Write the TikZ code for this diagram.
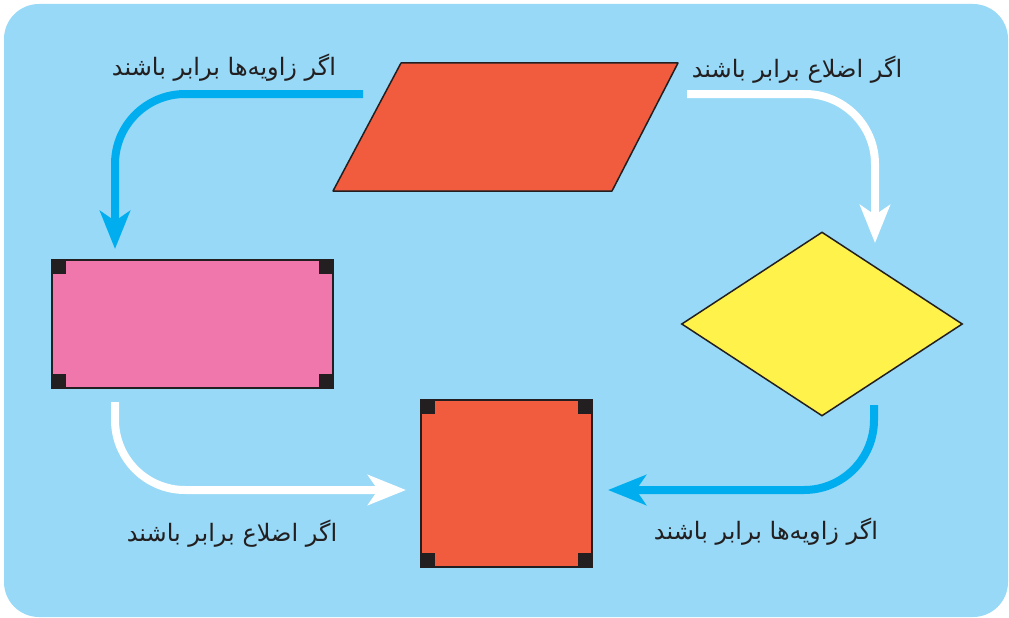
\documentclass[tikz,border=0pt]{standalone}
\usepackage{fontspec}
\newfontfamily\farsifont[Script=Arabic]{DejaVu Sans}
\TeXXeTstate=1
\usetikzlibrary{arrows.meta,shapes.geometric}

\definecolor{bgblue}{HTML}{97D9F6}
\definecolor{arrowblue}{HTML}{00AEEF}
\definecolor{shapered}{HTML}{F15C3E}
\definecolor{shapepink}{HTML}{F077AC}
\definecolor{shapeyellow}{HTML}{FFF24A}
\definecolor{inkdark}{HTML}{231F20}

\tikzset{
  flowarrow/.style={line width=8pt, rounded corners=70pt,
    -{Stealth[length=38pt,width=30pt,inset=10pt]}},
  shapebox/.style={draw=inkdark, line width=1.5pt, inner sep=0pt},
  cond/.style={font=\farsifont\fontsize{24}{28}\selectfont, text=inkdark},
}

\begin{document}
\begin{tikzpicture}[x=1pt,y=-1pt]
    \useasboundingbox (0,0) rectangle (1009,618);
    \fill [bgblue, rounded corners=35pt] (4,4) rectangle (1008,617);

    \draw [shapebox, fill=shapered, line join=round] (333,191) -- (401,63) -- (678,63) -- (612,191) -- cycle;
    \node [shapebox, fill=shapepink, minimum width=281, minimum height=128] (rect) at (192.5,324) {};
    \node [shapebox, fill=shapeyellow, diamond, minimum width=281, minimum height=184] (rhombus) at (822,324) {};
    \node [shapebox, fill=shapered, minimum width=171, minimum height=167] (sq) at (506.5,483.5) {};

    \foreach \a/\dx/\dy in {north west/1/1, north east/-1/1, south west/1/-1, south east/-1/-1} {
      \fill [inkdark] (rect.\a) rectangle ++(15*\dx,15*\dy);
      \fill [inkdark] (sq.\a) rectangle ++(15*\dx,15*\dy);
    }

    \coordinate (tlfrom) at (363,94);
    \coordinate (tlto) at (115,249);
    \coordinate (trfrom) at (687,94);
    \coordinate (trto) at (875,243);
    \coordinate (blfrom) at (115,402);
    \coordinate (blto) at (406,490);
    \coordinate (brfrom) at (874,405);
    \coordinate (brto) at (608,490);

    \draw [flowarrow, arrowblue] (tlfrom) -| (tlto);
    \draw [flowarrow, white] (trfrom) -| (trto);
    \draw [flowarrow, white] (blfrom) |- (blto);
    \draw [flowarrow, arrowblue] (brfrom) |- (brto);

    \node [cond] (angtop) at (224,68) {\beginR اگر زاویه^^^^200cها برابر باشند\endR};
    \node [cond] (sidetop) at (797,70) {\beginR اگر اضلاع برابر باشند\endR};
    \node [cond] (sidebot) at (232,534) {\beginR اگر اضلاع برابر باشند\endR};
    \node [cond] (angbot) at (766,532) {\beginR اگر زاویه^^^^200cها برابر باشند\endR};
\end{tikzpicture}
\end{document}
